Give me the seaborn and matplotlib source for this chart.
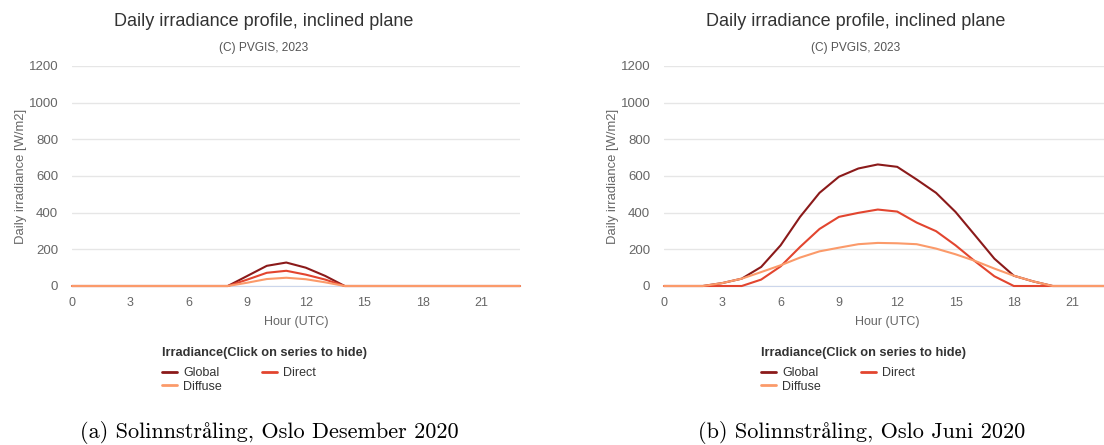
import numpy as np
import pandas as pd
import seaborn as sns
import matplotlib.pyplot as plt

sns.set_style("white")
plt.rcParams['font.family'] = ['Liberation Sans', 'DejaVu Sans']

hours = list(range(24))

# December 2020, Oslo
dec_global = [0, 0, 0, 0, 0, 0, 0, 0, 0, 55, 110, 128, 100, 55, 0, 0, 0, 0, 0, 0, 0, 0, 0, 0]
dec_direct = [0, 0, 0, 0, 0, 0, 0, 0, 0, 35, 72, 83, 62, 35, 0, 0, 0, 0, 0, 0, 0, 0, 0, 0]
dec_diffuse = [0, 0, 0, 0, 0, 0, 0, 0, 0, 18, 38, 45, 37, 20, 0, 0, 0, 0, 0, 0, 0, 0, 0, 0]

# June 2020, Oslo
jun_global = [0, 0, 0, 16, 40, 104, 222, 377, 508, 596, 641, 663, 650, 581, 508, 404, 277, 149, 56, 25, 0, 0, 0, 0]
jun_direct = [0, 0, 0, 0, 0, 35, 107, 213, 311, 377, 399, 417, 406, 346, 299, 222, 135, 53, 0, 0, 0, 0, 0, 0]
jun_diffuse = [0, 0, 0, 16, 40, 76, 113, 155, 189, 209, 228, 235, 233, 228, 204, 173, 137, 95, 56, 25, 0, 0, 0, 0]

series = ["Global", "Direct", "Diffuse"]
colors = {"Global": "#8b1a1a", "Direct": "#e2452f", "Diffuse": "#fb9a6a"}
captions = ["(a) Solinnstråling, Oslo Desember 2020", "(b) Solinnstråling, Oslo Juni 2020"]


def make_df(g, d, f):
    return pd.DataFrame({
        "hour": hours * 3,
        "value": g + d + f,
        "series": ["Global"] * 24 + ["Direct"] * 24 + ["Diffuse"] * 24,
    })


data = [make_df(dec_global, dec_direct, dec_diffuse),
        make_df(jun_global, jun_direct, jun_diffuse)]

fig = plt.figure(figsize=(11.04, 4.45), dpi=100)
ax1 = fig.add_axes([72 / 1104, 1 - 286 / 445, 448 / 1104, 220 / 445])
ax2 = fig.add_axes([664 / 1104, 1 - 286 / 445, 447 / 1104, 220 / 445])

panels = zip([ax1, ax2], [72, 664], [448, 447], data, captions, [269, 862], [162, 761])
for ax, left, width, df, cap, cx, lx in panels:
    sns.lineplot(data=df, x="hour", y="value", hue="series", hue_order=series,
                 palette=colors, linewidth=1.5, ax=ax, clip_on=False, zorder=3)
    ax.set_xlim(0, 23)
    ax.set_ylim(0, 1200)
    ax.set_xticks(range(0, 24, 3))
    ax.set_yticks(range(0, 1201, 200))
    ax.grid(axis="y", color="#e6e6e6", linewidth=1)
    ax.set_axisbelow(True)
    for s in ["top", "right", "left"]:
        ax.spines[s].set_visible(False)
    ax.spines["bottom"].set_color("#ccd6eb")
    ax.tick_params(axis="x", colors="#ccd6eb", labelcolor="#666666", length=6,
                   width=1, labelsize=9, pad=2)
    ax.tick_params(axis="y", length=0, labelcolor="#666666", labelsize=9.5, pad=10)
    ax.set_xlabel("Hour (UTC)", color="#666666", fontsize=9, labelpad=5)
    ax.set_ylabel("Daily irradiance [W/m2]", color="#666666", fontsize=9.4, labelpad=1)

    ax.text(0.428, 1.20, "Daily irradiance profile, inclined plane", transform=ax.transAxes,
            ha="center", va="center", fontsize=13, color="#333333")
    ax.text(0.428, 1.082, "(C) PVGIS, 2023", transform=ax.transAxes,
            ha="center", va="center", fontsize=8.6, color="#555555")

    # legend: title drawn as its own text, entries in two columns below
    x0 = (lx - left) / width
    ax.text(x0, (286 - 353) / 220, "Irradiance(Click on series to hide)", transform=ax.transAxes,
            ha="left", va="center", fontsize=9.2, fontweight="bold", color="#333333")
    leg = ax.get_legend()
    handles = leg.legend_handles
    labels = [t.get_text() for t in leg.get_texts()]
    order = [0, 2, 1]
    ax.legend([handles[i] for i in order], [labels[i] for i in order],
              ncol=2, frameon=False, loc="upper left",
              bbox_to_anchor=(x0, (286 - 367) / 220), borderpad=0, borderaxespad=0,
              fontsize=9, handlelength=1.2, handletextpad=0.5, columnspacing=3.2,
              labelspacing=0.12, labelcolor="#333333")
    for h in ax.get_legend().legend_handles:
        h.set_linewidth(2)

    fig.text(cx / 1104, 1 - 433 / 445, cap, ha="center", va="center", fontsize=16,
             family=["cmr10", "STIXGeneral"], color="black")

fig.savefig("out.png", dpi=100)
